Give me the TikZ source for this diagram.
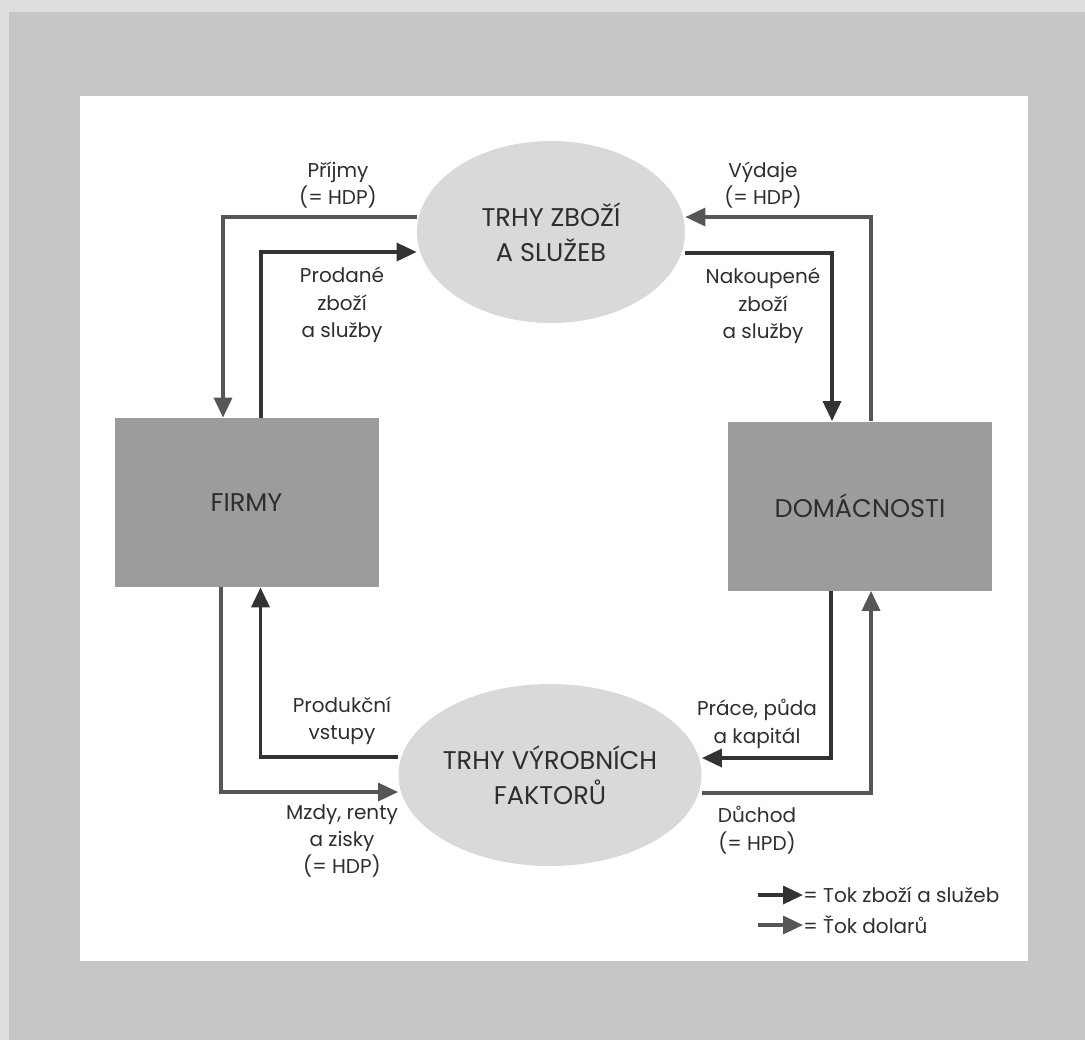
\documentclass[tikz,border=0pt]{standalone}
\usepackage{fontspec}
\setmainfont{Poppins}
\usetikzlibrary{positioning,arrows.meta,calc,shapes.geometric}
\definecolor{panelgray}{HTML}{C6C6C6}
\definecolor{stripgray}{HTML}{DEDEDE}
\definecolor{marketgray}{HTML}{D9D9D9}
\definecolor{agentgray}{HTML}{9C9C9C}
\definecolor{goodsline}{HTML}{333333}
\definecolor{moneyline}{HTML}{565656}
\definecolor{textgray}{HTML}{2E2E2E}
\tikzset{
    x=0.5pt,
    y=-0.5pt,
    market/.style = {
        shape=ellipse,
        fill=marketgray,
        minimum width=134pt,
        minimum height=91pt,
        inner sep=0pt,
        align=center,
        text=textgray,
        font=\fontsize{12.8}{17.5}\selectfont
    },
    agent/.style = {
        shape=rectangle,
        fill=agentgray,
        minimum width=132pt,
        minimum height=84.5pt,
        inner sep=0pt,
        text=textgray,
        font=\fontsize{12.8}{17.5}\selectfont
    },
    flowlabel/.style = {
        shape=rectangle,
        align=center,
        inner sep=0pt,
        text=textgray,
        font=\fontsize{10}{13.7}\selectfont
    },
    goods/.style = {draw=goodsline, line width=1.7pt, ->},
    money/.style = {draw=moneyline, line width=1.7pt, ->},
    >={Triangle[length=10pt,width=9pt]},
}
\begin{document}
\begin{tikzpicture}
            % page and panel
            \useasboundingbox (0,0) rectangle (1085,1040);
            \fill[panelgray] (0,0) rectangle (1085,1040);
            \fill[stripgray] (0,0) rectangle (1085,12);
            \fill[stripgray] (0,0) rectangle (9,1040);
            \fill[white] (80,96) rectangle (1028,961);

            \node[market] (zbozi) at (551,232) {TRHY ZBOŽÍ\\A SLUŽEB};
            \node[market] (faktory) at (550,775) {TRHY VÝROBNÍCH\\FAKTORŮ};
            \node[agent] (firmy) at (246.5,502.5) {FIRMY};
            \node[agent] (domy) at (860,506) {DOMÁCNOSTI};

            \node[flowlabel] (prijmy) at (338,185) {Příjmy\\(= HDP)};
            \node[flowlabel] (vydaje) at (763,185) {Výdaje\\(= HDP)};
            \node[flowlabel] (prodane) at (342,305) {Prodané\\zboží\\a služby};
            \node[flowlabel] (nakoupene) at (763,306) {Nakoupené\\zboží\\a služby};
            \node[flowlabel] (vstupy) at (342,721) {Produkční\\vstupy};
            \node[flowlabel] (prace) at (757,724) {Práce, půda\\a kapitál};
            \node[flowlabel] (mzdy) at (342,841) {Mzdy, renty\\a zisky\\(= HDP)};
            \node[flowlabel] (duchod) at (757,830) {Důchod\\(= HPD)};

            % flows round the goods market
            \path[money] (zbozi.west |- 0,217) -| ($(firmy.north)+(-23.5,0)$);
            \path[goods] ($(firmy.north)+(14.5,0)$) |- (zbozi.west |- 0,252);
            \path[goods] (zbozi.east |- 0,253) -| ($(domy.north)+(-28,0)$);
            \path[money] ($(domy.north)+(11,0)$) |- (zbozi.east |- 0,217);

            % flows round the factor market
            \path[goods] (faktory.west |- 0,757) -| ($(firmy.south)+(14,0)$);
            \path[money] ($(firmy.south)+(-25.5,0)$) |- (faktory.west |- 0,792);
            \path[goods] ($(domy.south)+(-29,0)$) |- (faktory.east |- 0,758);
            \path[money] (faktory.east |- 0,793) -| ($(domy.south)+(11,0)$);

            % legend
            \coordinate (lgoods) at (758,895);
            \coordinate (lmoney) at (758,925);
            \node[flowlabel, anchor=west] (tgoods) at (803,895) {= Tok zboží a služeb};
            \node[flowlabel, anchor=west] (tmoney) at (803,925) {= Ťok dolarů};
            \path[goods] (lgoods) -- (tgoods.west);
            \path[money] (lmoney) -- (tmoney.west);
        \end{tikzpicture}
\end{document}
